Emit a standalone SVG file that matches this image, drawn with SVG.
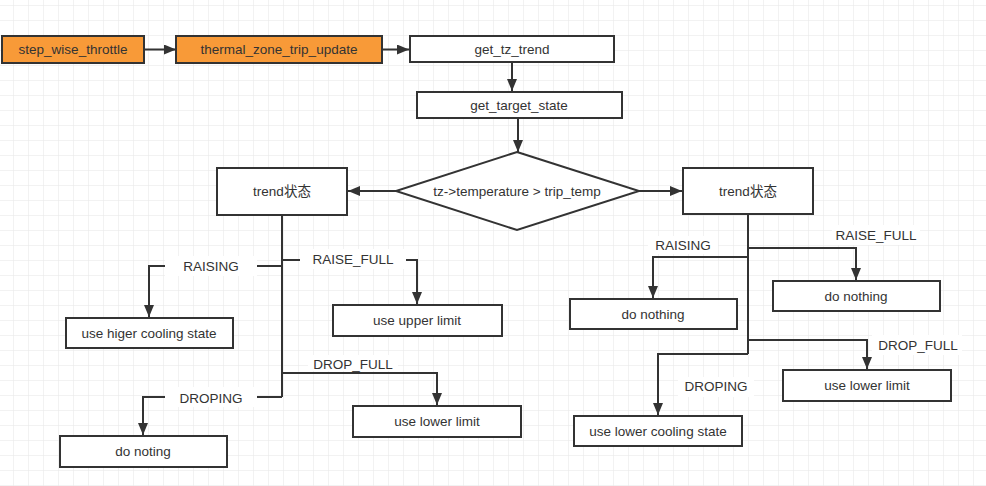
<svg xmlns="http://www.w3.org/2000/svg" width="986" height="486" viewBox="0 0 986 486">
<defs>
<pattern id="grid" x="13" y="5" width="15" height="15" patternUnits="userSpaceOnUse">
<path d="M0,0 H15 M0,0 V15" fill="none" stroke="#e6e6e6" stroke-width="1"/>
</pattern>
<marker id="arr" markerUnits="userSpaceOnUse" markerWidth="13" markerHeight="11" refX="12" refY="5" orient="auto">
<path d="M0,0 L12,5 L0,10 Z" fill="#333"/>
</marker>
</defs>
<style>
.box{fill:#fff;stroke:#333;stroke-width:2}
.org{fill:#f89a38;stroke:#333;stroke-width:2}
.t{font-family:"Liberation Sans","Noto Sans CJK SC",sans-serif;font-size:13.5px;fill:#333;text-anchor:middle;dominant-baseline:central}
.c{fill:none;stroke:#333;stroke-width:2}
.ca{fill:none;stroke:#333;stroke-width:2;marker-end:url(#arr)}
.bg{fill:#fff}
</style>
<rect width="986" height="486" fill="#fff"/>
<rect width="986" height="486" fill="url(#grid)"/>

<g id="connectors">
<line class="ca" x1="144" y1="49.5" x2="176" y2="49.5"/>
<line class="ca" x1="382" y1="49.5" x2="409" y2="49.5"/>
<line class="ca" x1="512" y1="62" x2="512" y2="91"/>
<line class="ca" x1="518" y1="118" x2="518" y2="152"/>
<line class="ca" x1="396" y1="191" x2="348" y2="191"/>
<line class="ca" x1="639" y1="191" x2="682" y2="191"/>
<!-- left branches -->
<polyline class="c" points="282,215 282,397"/>
<polyline class="ca" points="282,266 149,266 149,317"/>
<polyline class="ca" points="282,260 417,260 417,304"/>
<polyline class="ca" points="282,373 437,373 437,405"/>
<polyline class="ca" points="282,397 143,397 143,435"/>
<!-- right branches -->
<polyline class="c" points="748,215 748,354"/>
<polyline class="ca" points="748,248 856,248 856,280"/>
<polyline class="ca" points="748,257 653,257 653,298"/>
<polyline class="ca" points="748,340 867,340 867,369"/>
<polyline class="ca" points="748,354 658,354 658,415"/>
</g>

<g id="labels">
<rect class="bg" x="165" y="256" width="92" height="20"/>
<text class="t" x="211" y="266">RAISING</text>
<rect class="bg" x="300" y="249" width="106" height="20"/>
<text class="t" x="353" y="259">RAISE_FULL</text>
<rect class="bg" x="308" y="355" width="90" height="16"/>
<text class="t" x="353" y="364">DROP_FULL</text>
<rect class="bg" x="165" y="387" width="92" height="20"/>
<text class="t" x="211" y="398">DROPING</text>
<rect class="bg" x="648" y="236" width="70" height="18"/>
<text class="t" x="683" y="245">RAISING</text>
<rect class="bg" x="832" y="225" width="88" height="20"/>
<text class="t" x="876" y="235">RAISE_FULL</text>
<rect class="bg" x="872" y="335" width="90" height="20"/>
<text class="t" x="918" y="345">DROP_FULL</text>
<rect class="bg" x="678" y="377" width="76" height="20"/>
<text class="t" x="716" y="386">DROPING</text>
</g>

<g id="step_wise_throttle"><rect class="org" x="2" y="36" width="142" height="27"/><text class="t" x="73" y="49.5">step_wise_throttle</text></g>
<g id="thermal_zone_trip_update"><rect class="org" x="176" y="36" width="206" height="27"/><text class="t" x="279" y="49.5">thermal_zone_trip_update</text></g>
<g id="get_tz_trend"><rect class="box" x="410" y="36" width="204" height="26"/><text class="t" x="512" y="49">get_tz_trend</text></g>
<g id="get_target_state"><rect class="box" x="417" y="92" width="205" height="26"/><text class="t" x="519" y="105">get_target_state</text></g>
<g id="decision"><polygon class="box" points="517,152 639,191 517,230 396,191"/><text class="t" x="517" y="191">tz-&gt;temperature &gt; trip_temp</text></g>
<g id="trend_left"><rect class="box" x="217" y="168" width="130" height="47"/><text class="t" x="282" y="191">trend状态</text></g>
<g id="trend_right"><rect class="box" x="683" y="168" width="130" height="46"/><text class="t" x="748" y="191">trend状态</text></g>
<g id="use_higer_cooling_state"><rect class="box" x="66" y="318" width="167" height="30"/><text class="t" x="149" y="333">use higer cooling state</text></g>
<g id="use_upper_limit"><rect class="box" x="333" y="305" width="169" height="31"/><text class="t" x="417" y="320">use upper limit</text></g>
<g id="do_noting"><rect class="box" x="60" y="436" width="167" height="31"/><text class="t" x="143" y="451">do noting</text></g>
<g id="use_lower_limit_left"><rect class="box" x="353" y="406" width="168" height="31"/><text class="t" x="437" y="421">use lower limit</text></g>
<g id="do_nothing_left"><rect class="box" x="570" y="299" width="167" height="30"/><text class="t" x="653" y="314">do nothing</text></g>
<g id="do_nothing_right"><rect class="box" x="773" y="281" width="167" height="30"/><text class="t" x="856" y="296">do nothing</text></g>
<g id="use_lower_limit_right"><rect class="box" x="783" y="370" width="168" height="31"/><text class="t" x="867" y="385">use lower limit</text></g>
<g id="use_lower_cooling_state"><rect class="box" x="574" y="416" width="168" height="30"/><text class="t" x="658" y="431">use lower cooling state</text></g>
</svg>
